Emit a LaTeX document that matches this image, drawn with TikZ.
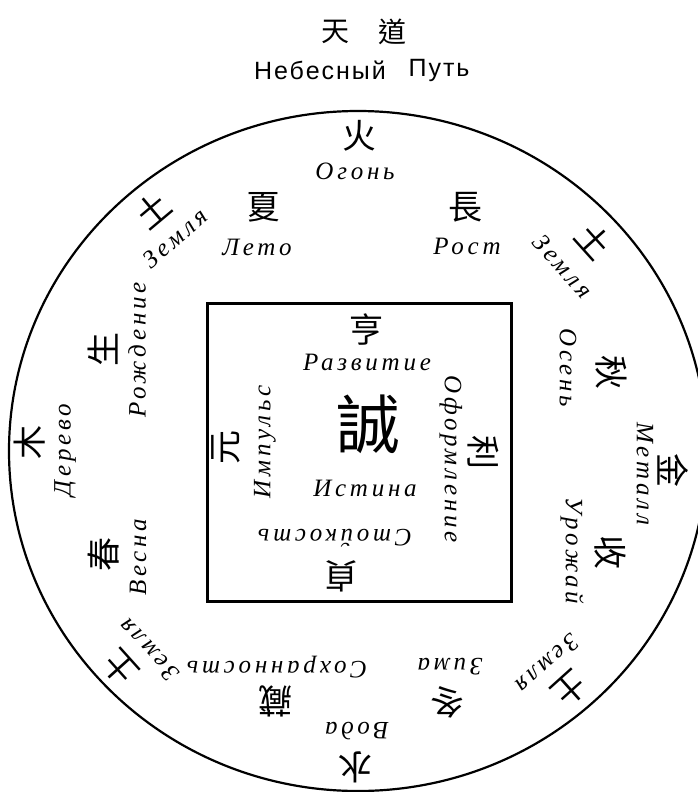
\documentclass[tikz,border=0pt]{standalone}
\usepackage{fontspec}
\newfontfamily\cjk{Noto Sans CJK TC}
\newfontfamily\ruit{Liberation Serif}[LetterSpace=15]
\newfontfamily\rusans{Liberation Sans}[LetterSpace=8]
\begin{document}
\begin{tikzpicture}[x=1pt,y=-1pt,
  ch/.style={font=\cjk\fontsize{34}{34}\selectfont, inner sep=0pt},
  bigch/.style={font=\cjk\fontsize{64}{64}\selectfont, inner sep=0pt},
  topch/.style={font=\cjk\fontsize{28}{28}\selectfont, inner sep=0pt},
  ru/.style={font=\ruit\itshape\fontsize{25}{25}\selectfont, inner sep=0pt},
  rs/.style={font=\rusans\fontsize{25}{25}\selectfont, inner sep=0pt},
  rim/.style={line width=2.2pt},
  box/.style={line width=3pt}]
\useasboundingbox (0,0) rectangle (698,792);
\fill[white] (0,0) rectangle (698,792);
% outer circle and inner square
\draw[rim] (358,451) ellipse [x radius=349, y radius=340];
\draw[box] (207,303) rectangle (511,601);
% title
\node[topch] (tian) at (335,32) {天};
\node[topch] (dao) at (392,32) {道};
\node[rs] (neb) at (320,70) {Небесный};
\node[rs] (put) at (439,70) {Путь};
% top
\node[ch] (huo) at (359,136) {火};
\node[ru] (ogon) at (355,171) {Огонь};
\node[ch] (xia) at (263,207) {夏};
\node[ru] (leto) at (257,247) {Лето};
\node[ch] (zhang) at (465,207) {長};
\node[ru] (rost) at (467,246) {Рост};
% earth upper left / upper right
\node[ch, rotate=40] (tu1) at (153,210) {土};
\node[ru, rotate=41] (zem1) at (175,238) {Земля};
\node[ch, rotate=-48] (tu2) at (594,241) {土};
\node[ru, rotate=-48] (zem2) at (563,266) {Земля};
% left
\node[ch, rotate=90] (sheng) at (103,349) {生};
\node[ru, rotate=90] (rozh) at (137,350) {Рождение};
\node[ch, rotate=90] (mu) at (30,442) {木};
\node[ru, rotate=90] (derevo) at (65,450) {Дерево};
\node[ch, rotate=90] (chun) at (104,554) {春};
\node[ru, rotate=90] (vesna) at (138,557) {Весна};
% earth lower left / lower right
\node[ch, rotate=132] (tu3) at (120,668) {土};
\node[ru, rotate=133] (zem3) at (149,650) {Земля};
\node[ch, rotate=-138] (tu4) at (570,689) {土};
\node[ru, rotate=-138] (zem4) at (548,664) {Земля};
% bottom
\node[ru, rotate=180] (sohr) at (277,667) {Сохранность};
\node[ch, rotate=180] (cang) at (275,701) {藏};
\node[ru, rotate=180] (voda) at (357,731) {Вода};
\node[ch, rotate=180] (shui) at (355,767) {水};
\node[ru, rotate=180] (zima) at (450,667) {Зима};
\node[ch, rotate=180] (dong) at (447,702) {冬};
% right
\node[ch, rotate=-90] (shou) at (610,552) {收};
\node[ru, rotate=-90] (urozh) at (572,551) {Урожай};
\node[ch, rotate=-90] (jin) at (673,470) {金};
\node[ru, rotate=-90] (metall) at (645,474) {Металл};
\node[ch, rotate=-90] (qiu) at (611,372) {秋};
\node[ru, rotate=-90] (osen) at (568,368) {Осень};
% square
\node[ch] (heng) at (366,330) {亨};
\node[ru] (razv) at (367,362) {Развитие};
\node[bigch] (cheng) at (368,424) {誠};
\node[ru] (istina) at (365,488) {Истина};
\node[ru, rotate=180] (stoik) at (335,538) {Стойкость};
\node[ch, rotate=180] (zhen) at (341,576) {貞};
\node[ch, rotate=90] (yuan) at (226,447) {元};
\node[ru, rotate=90] (impuls) at (265,442) {Импульс};
\node[ch, rotate=-90] (li) at (483,452) {利};
\node[ru, rotate=-90] (oform) at (451,459) {Оформление};
\end{tikzpicture}
\end{document}
